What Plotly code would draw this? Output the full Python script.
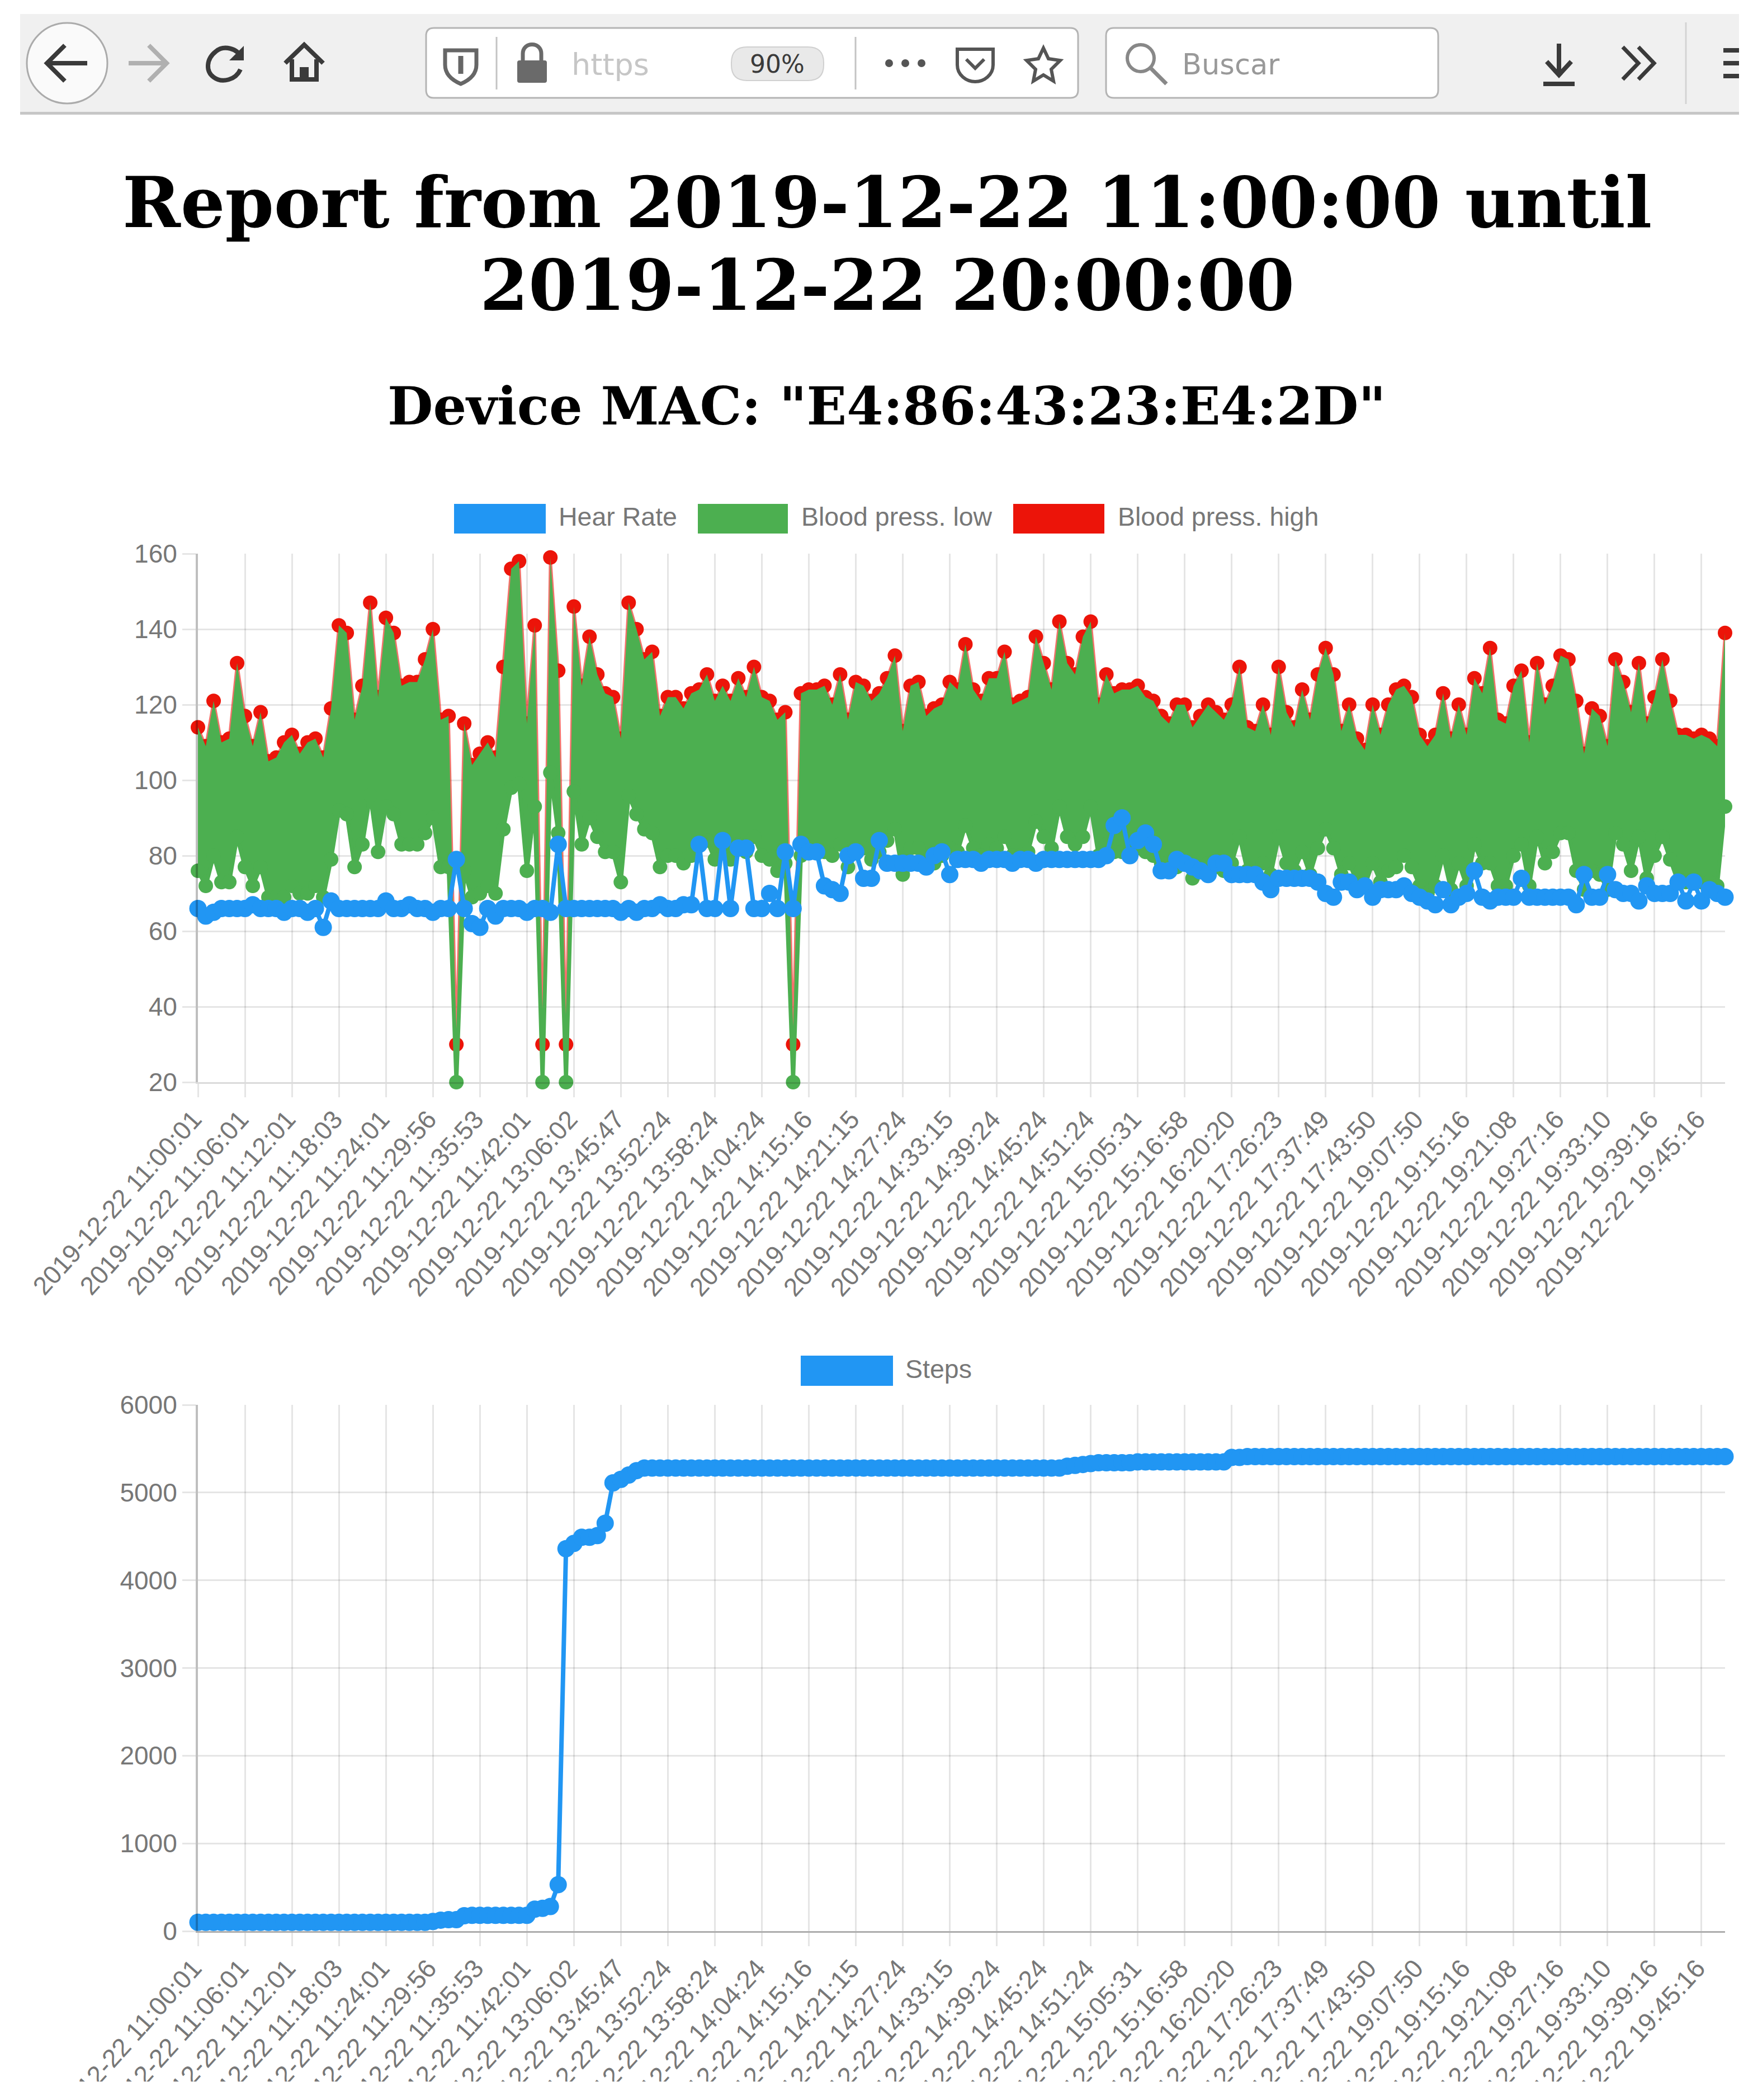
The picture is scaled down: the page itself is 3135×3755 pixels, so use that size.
import re
import plotly.graph_objects as go

W, H = 3135, 3755

tick_labels = ["2019-12-22 11:00:01","2019-12-22 11:06:01","2019-12-22 11:12:01","2019-12-22 11:18:03",
"2019-12-22 11:24:01","2019-12-22 11:29:56","2019-12-22 11:35:53","2019-12-22 11:42:01","2019-12-22 13:06:02",
"2019-12-22 13:45:47","2019-12-22 13:52:24","2019-12-22 13:58:24","2019-12-22 14:04:24","2019-12-22 14:15:16",
"2019-12-22 14:21:15","2019-12-22 14:27:24","2019-12-22 14:33:15","2019-12-22 14:39:24","2019-12-22 14:45:24",
"2019-12-22 14:51:24","2019-12-22 15:05:31","2019-12-22 15:16:58","2019-12-22 16:20:20","2019-12-22 17:26:23",
"2019-12-22 17:37:49","2019-12-22 17:43:50","2019-12-22 19:07:50","2019-12-22 19:15:16","2019-12-22 19:21:08",
"2019-12-22 19:27:16","2019-12-22 19:33:10","2019-12-22 19:39:16","2019-12-22 19:45:16"]

blood_high = [114,109,121,110,111,131,117,109,118,105,
106,110,112,107,110,111,106,119,141,139,
116,125,147,122,143,139,125,126,126,132,
140,116,117,30,115,104,107,110,106,130,
156,158,115,141,30,159,129,30,146,125,
138,128,123,122,111,147,140,132,134,117,
122,122,119,123,124,128,121,125,121,127,
122,130,122,121,116,118,30,123,124,124,
125,120,128,116,126,125,121,123,127,133,
113,125,126,117,119,120,126,124,136,124,
121,127,127,134,120,121,122,138,131,124,
142,131,128,138,142,120,128,123,124,124,
125,122,121,117,115,120,120,114,117,120,
118,116,120,130,114,113,120,112,130,118,
114,124,116,128,135,128,113,120,111,108,
120,112,120,124,125,122,112,109,112,123,
111,120,112,127,123,135,116,115,125,129,
110,131,120,125,133,132,121,107,119,117,
109,132,126,118,131,115,122,132,121,112,
112,111,112,111,109,139]

blood_low = [76,72,80,73,73,85,77,72,77,69,
69,69,72,70,70,72,69,79,92,91,
77,83,96,81,93,91,83,83,83,86,
90,77,77,20,76,69,70,72,70,87,
98,99,76,93,20,102,86,20,97,83,
90,85,81,81,73,96,91,87,86,77,
80,80,78,80,83,84,79,83,79,83,
81,85,80,79,76,78,20,80,81,81,
81,80,83,77,82,82,79,81,84,87,
75,82,82,78,78,80,82,81,88,82,
80,83,82,85,80,80,81,89,85,82,
93,85,83,85,93,80,83,81,81,81,
82,81,80,78,76,77,78,74,76,78,
77,76,78,85,76,76,78,75,85,78,
76,81,75,82,87,82,75,78,73,72,
78,73,76,77,80,77,72,70,72,80,
71,78,72,83,78,78,72,72,80,83,
72,85,78,81,86,86,76,71,76,75,
71,86,83,76,85,74,80,85,79,73,
73,73,73,73,72,93]

heart_rate = [66,64,65,66,66,66,66,67,66,66,
66,65,66,66,65,66,61,68,66,66,
66,66,66,66,68,66,66,67,66,66,
65,66,66,79,66,62,61,66,64,66,
66,66,65,66,66,65,83,66,66,66,
66,66,66,66,65,66,65,66,66,67,
66,66,67,67,83,66,66,84,66,82,
82,66,66,70,66,81,66,83,81,81,
72,71,70,80,81,74,74,84,78,78,
78,78,78,77,80,81,75,79,79,79,
78,79,79,79,78,79,79,78,79,79,
79,79,79,79,79,79,80,88,90,80,
84,86,83,76,76,79,78,77,76,75,
78,78,75,75,75,75,73,71,74,74,
74,74,74,73,70,69,73,73,71,72,
69,71,71,71,72,70,69,68,67,71,
67,69,70,76,69,68,69,69,69,74,
69,69,69,69,69,69,67,75,69,69,
75,71,70,70,68,72,70,70,70,73,
68,73,68,71,70,69]

steps = [100,100,100,100,100,100,100,100,100,100,
100,100,100,100,100,100,100,100,100,100,
100,100,100,100,100,100,100,100,100,100,
110,125,130,130,175,180,180,180,180,180,
180,180,180,250,260,280,530,4360,4420,4490,
4490,4510,4650,5110,5150,5200,5250,5280,5280,5280,
5280,5280,5280,5280,5280,5280,5280,5280,5280,5280,
5280,5280,5280,5280,5280,5280,5280,5280,5280,5280,
5280,5280,5280,5280,5280,5280,5280,5280,5280,5280,
5280,5280,5280,5280,5280,5280,5280,5280,5280,5280,
5280,5280,5280,5280,5280,5280,5280,5280,5280,5280,
5280,5300,5310,5320,5330,5340,5340,5340,5340,5340,
5350,5350,5350,5350,5350,5350,5350,5350,5350,5350,
5350,5350,5400,5400,5410,5410,5410,5410,5410,5410,
5410,5410,5410,5410,5410,5410,5410,5410,5410,5410,
5410,5410,5410,5410,5410,5410,5410,5410,5410,5410,
5410,5410,5410,5410,5410,5410,5410,5410,5410,5410,
5410,5410,5410,5410,5410,5410,5410,5410,5410,5410,
5410,5410,5410,5410,5410,5410,5410,5410,5410,5410,
5410,5410,5410,5410,5410,5410]

sample_index = list(range(len(heart_rate)))
tick_index = sample_index[::6][:len(tick_labels)]

BLUE, GREEN, RED = "#2196F3", "#4CAF50", "#EC1409"
GRID = "rgba(0,0,0,0.10)"
TICKC = "#777777"
SANS = "Liberation Sans"

def px(x): return x / W
def py(y): return 1 - y / H

def conv_path(s):
    toks = re.findall(r"[A-Za-z]|-?\d+\.?\d*", s)
    out, isx = [], True
    for t in toks:
        if t.isalpha():
            out.append(t); isx = True
        else:
            out.append(f"{px(float(t)):.6f}" if isx else f"{py(float(t)):.6f}")
            isx = not isx
    return " ".join(out)

shapes, annos = [], []

def path(s, fill=None, line=None, w=0):
    shapes.append(dict(type="path", xref="paper", yref="paper", path=conv_path(s),
                       fillcolor=fill or "rgba(0,0,0,0)",
                       line=dict(color=line or "rgba(0,0,0,0)", width=w)))

def rect(x0, y0, x1, y1, fill, line=None, w=0):
    shapes.append(dict(type="rect", xref="paper", yref="paper", x0=px(x0), x1=px(x1), y0=py(y0), y1=py(y1),
                       fillcolor=fill, line=dict(color=line or "rgba(0,0,0,0)", width=w)))

def rrect(x0, y0, x1, y1, r, fill, line=None, w=0):
    path(f"M {x0+r} {y0} L {x1-r} {y0} Q {x1} {y0} {x1} {y0+r} L {x1} {y1-r} Q {x1} {y1} {x1-r} {y1} "
         f"L {x0+r} {y1} Q {x0} {y1} {x0} {y1-r} L {x0} {y0+r} Q {x0} {y0} {x0+r} {y0} Z", fill, line, w)

def oval(cx, cy, r, fill, line=None, w=0):
    shapes.append(dict(type="circle", xref="paper", yref="paper", x0=px(cx-r), x1=px(cx+r), y0=py(cy-r), y1=py(cy+r),
                       fillcolor=fill, line=dict(color=line or "rgba(0,0,0,0)", width=w)))

def text(x, y, s, size, color, family=SANS, anchor="left", bold=False):
    annos.append(dict(xref="paper", yref="paper", x=px(x), y=py(y), text=f"<b>{s}</b>" if bold else s,
                      showarrow=False, xanchor=anchor, yanchor="middle", align=anchor,
                      font=dict(family=family, size=size, color=color)))

# browser toolbar
rect(36, 25, 3110, 200, "#F0F0F0")
rect(36, 200, 3110, 205, "#C6C6C6")
DK = "#3A3A3A"
oval(120, 113, 72, "#FAFAFA", "#ABABAB", 3)
path("M 84 113 L 156 113 M 116 81 L 84 113 L 116 145", None, DK, 8)
path("M 230 113 L 298 113 M 266 81 L 298 113 L 266 145", None, "#B0B0B0", 8)
path("M 432 104 C 425 86 400 80 386 92 C 368 106 368 128 382 138 C 398 150 422 142 430 124", None, DK, 8)
path("M 436 82 L 436 108 L 410 108 Z", DK)
path("M 510 113 L 544 80 L 578 113 M 522 106 L 522 142 L 566 142 L 566 106", None, DK, 8)
rect(536, 120, 552, 142, DK)
rrect(762, 50, 1928, 175, 14, "#FFFFFF", "#B4B4B4", 3)
rrect(1978, 50, 2572, 175, 14, "#FFFFFF", "#B4B4B4", 3)
for sx in (888, 1530):
    path(f"M {sx} 66 L {sx} 160", None, "#C4C4C4", 3)
path("M 3015 40 L 3015 186", None, "#D4D4D4", 3)
path("M 796 90 L 852 90 L 852 116 C 852 134 838 144 824 150 C 810 144 796 134 796 116 Z", None, "#666666", 7)
path("M 824 100 L 824 132", None, "#666666", 9)
rrect(925, 108, 978, 148, 4, "#6A6A6A")
path("M 935 108 L 935 96 C 935 74 968 74 968 96 L 968 108", None, "#6A6A6A", 7)
text(1020, 115, "https", 54, "#C6C6C6", "DejaVu Sans")
rrect(1308, 84, 1473, 144, 28, "#E9E9E9", "#D0D0D0", 2)
text(1390, 114, "90%", 44, "#3A3A3A", "DejaVu Sans", "center")
for dx in (1590, 1619, 1648):
    oval(dx, 113, 7, "#555555")
path("M 1712 88 L 1776 88 L 1776 116 C 1776 134 1760 146 1744 146 C 1728 146 1712 134 1712 116 Z", None, "#555555", 6)
path("M 1728 106 L 1744 122 L 1760 106", None, "#555555", 6)
path("M 1866 86 L 1875 105 L 1896 108 L 1880 124 L 1884 145 L 1866 134 L 1848 145 L 1852 124 L 1836 108 L 1857 105 Z", None, "#555555", 6)
oval(2040, 104, 24, "rgba(0,0,0,0)", "#888888", 6)
path("M 2058 122 L 2086 150", None, "#888888", 7)
text(2112, 115, "Buscar", 51, "#999999", "DejaVu Sans")
path("M 2788 78 L 2788 132 M 2766 110 L 2788 134 L 2810 110 M 2760 150 L 2816 150", None, DK, 8)
path("M 2902 84 L 2930 113 L 2902 142 M 2930 84 L 2958 113 L 2930 142", None, DK, 7)
for hy in (90, 113, 136):
    rect(3082, hy-4, 3110, hy+4, DK)

# headings
title_lines = ["Report from 2019-12-22 11:00:00 until", "2019-12-22 20:00:00"]
subtitle = 'Device MAC: "E4:86:43:23:E4:2D"'
SERIF = "DejaVu Serif"
text(1586, 362, title_lines[0], 125, "#000000", SERIF, "center", True)
text(1586, 510, title_lines[1], 125, "#000000", SERIF, "center", True)
text(1586, 726, subtitle, 94, "#000000", SERIF, "center", True)

# legends drawn as wide colour boxes
legend_top = [("Hear Rate", BLUE, 812, 976, 997), ("Blood press. low", GREEN, 1248, 1409, 1431),
              ("Blood press. high", RED, 1812, 1975, 1997)]
for name, col, x0, x1, tx in legend_top:
    rect(x0, 901, x1, 954, col)
    text(tx, 924, name, 46.5, TICKC)
rect(1432, 2424, 1597, 2478, BLUE)
text(1617, 2448, "Steps", 46.5, TICKC)

# the reference screenshot ends in a white strip that cuts the lower tick labels
rect(0, 3722, W, H, "#FFFFFF")

fig = go.Figure()
fig.add_trace(go.Scatter(x=sample_index, y=blood_high, name="Blood press. high", mode="lines+markers",
                         line=dict(color="rgba(236,20,9,0.6)", width=5), marker=dict(color=RED, size=26),
                         cliponaxis=False, xaxis="x", yaxis="y", showlegend=False))
# invisible copy of the high series: the fill below it then paints over the red markers, as in the reference
fig.add_trace(go.Scatter(x=sample_index, y=blood_high, mode="lines", line=dict(color="rgba(0,0,0,0)", width=0),
                         hoverinfo="skip", cliponaxis=False, xaxis="x", yaxis="y", showlegend=False))
fig.add_trace(go.Scatter(x=sample_index, y=blood_low, name="Blood press. low", mode="lines+markers",
                         line=dict(color=GREEN, width=7), marker=dict(color=GREEN, size=26),
                         fill="tonexty", fillcolor=GREEN, cliponaxis=False, xaxis="x", yaxis="y", showlegend=False))
fig.add_trace(go.Scatter(x=sample_index, y=heart_rate, name="Hear Rate", mode="lines+markers",
                         line=dict(color=BLUE, width=8), marker=dict(color=BLUE, size=31),
                         cliponaxis=False, xaxis="x", yaxis="y", showlegend=False))
fig.add_trace(go.Scatter(x=sample_index, y=steps, name="Steps", mode="lines+markers",
                         line=dict(color=BLUE, width=8), marker=dict(color=BLUE, size=31),
                         cliponaxis=False, xaxis="x2", yaxis="y2", showlegend=False))

def xaxis(anchor, linecolor):
    return dict(domain=[px(354), px(3085)], anchor=anchor, range=[0, 195], tickmode="array",
                tickvals=tick_index, ticktext=tick_labels, tickangle=-48,
                ticklabelshift=-8, ticklabelstandoff=-6,
                tickfont=dict(family=SANS, size=46, color=TICKC), showgrid=True, gridcolor=GRID, gridwidth=3,
                ticks="outside", ticklen=24, tickwidth=3, tickcolor=GRID, zeroline=False,
                showline=True, linecolor=linecolor, linewidth=3, automargin=False)

def yaxis(anchor, dom, rng, dtick):
    return dict(domain=dom, anchor=anchor, range=rng, dtick=dtick, tickmode="linear", tick0=rng[0],
                tickfont=dict(family=SANS, size=46, color=TICKC), showgrid=True, gridcolor=GRID, gridwidth=3,
                ticks="outside", ticklen=24, tickwidth=3, tickcolor=GRID, zeroline=False,
                showline=True, linecolor="rgba(0,0,0,0.25)", linewidth=4, automargin=False)

fig.update_layout(width=W, height=H, autosize=False, margin=dict(l=0, r=0, t=0, b=0),
                  paper_bgcolor="white", plot_bgcolor="white", showlegend=False, shapes=shapes, annotations=annos,
                  xaxis=xaxis("y", "rgba(0,0,0,0.14)"), yaxis=yaxis("x", [py(1935), py(990)], [20, 160], 20),
                  xaxis2=xaxis("y2", "rgba(0,0,0,0.32)"), yaxis2=yaxis("x2", [py(3453), py(2512)], [0, 6000], 1000))

fig.write_html("out.html", config=dict(displayModeBar=False),
               post_script="document.body.style.margin='0';document.body.style.overflow='hidden';")
